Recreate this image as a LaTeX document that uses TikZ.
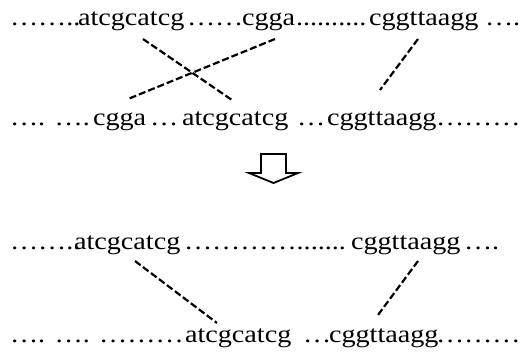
\documentclass[tikz,border=0pt]{standalone}
\usepackage{fontspec}
\usepackage{graphicx}
\setmainfont{Liberation Serif}
\usetikzlibrary{calc}
\newcommand{\stretchtxt}[1]{\scalebox{1.15}[1]{\fontsize{24.5pt}{30pt}\selectfont #1}}
\tikzset{
  seq/.style={anchor=base west, inner sep=0pt, outer sep=0pt},
  link/.style={draw=black, line width=2.2pt, dash pattern=on 7pt off 3pt},
  bigarrow/.style={draw=black, line width=1.8pt, fill=white, line join=miter}
}
\begin{document}
\begin{tikzpicture}[x=1pt,y=1pt]
\useasboundingbox (0,0) rectangle (522,-351);
% line 1
\node[seq] (d11) at (10,-25) {\stretchtxt{……..}};
\node[seq] (w11) at (78,-25) {\stretchtxt{atcgcatcg}};
\node[seq] (d12) at (187,-25) {\stretchtxt{……}};
\node[seq] (w12) at (242,-25) {\stretchtxt{cgga}};
\node[seq] (d13) at (296,-25) {\stretchtxt{..........}};
\node[seq] (w13) at (369,-25) {\stretchtxt{cggttaagg}};
\node[seq] (d14) at (485,-25) {\stretchtxt{….}};
% line 2
\node[seq] (d21) at (10,-125) {\stretchtxt{…. ….}};
\node[seq] (w21) at (93,-125) {\stretchtxt{cgga}};
\node[seq] (d22) at (150,-125) {\stretchtxt{…}};
\node[seq] (w22) at (182,-125) {\stretchtxt{atcgcatcg}};
\node[seq] (d23) at (297,-125) {\stretchtxt{…}};
\node[seq] (w23) at (327,-125) {\stretchtxt{cggttaagg}};
\node[seq] (d24) at (436,-125) {\stretchtxt{………}};
% line 3
\node[seq] (d31) at (10,-249) {\stretchtxt{……..}};
\node[seq] (w31) at (74,-249) {\stretchtxt{atcgcatcg}};
\node[seq] (d32) at (184,-249) {\stretchtxt{………….......}};
\node[seq] (w32) at (351,-249) {\stretchtxt{cggttaagg}};
\node[seq] (d33) at (464,-249) {\stretchtxt{….}};
% line 4
\node[seq] (d41) at (10,-342) {\stretchtxt{…. …. ………}};
\node[seq] (w41) at (185,-342) {\stretchtxt{atcgcatcg}};
\node[seq] (d42) at (303,-342) {\stretchtxt{…}};
\node[seq] (w42) at (329,-342) {\stretchtxt{cggttaagg}};
\node[seq] (d43) at (436,-342) {\stretchtxt{………}};
% connectors
\draw[link] ($(w11.base west)+(65,-14)$) -- ($(w22.base west)+(50,25)$);
\draw[link] ($(w12.base west)+(33,-14)$) -- ($(w21.base west)+(35,26)$);
\draw[link] ($(w13.base west)+(49,-14)$) -- ($(w23.base west)+(53,35)$);
\draw[link] ($(w31.base west)+(61,-12)$) -- ($(w41.base west)+(32,19)$);
\draw[link] ($(w32.base west)+(67,-12)$) -- ($(w42.base west)+(49,27)$);
% block arrow
\draw[bigarrow] (261,-154) -- (286,-154) -- (286,-173) -- (298,-173) -- (273.5,-183) -- (249,-173) -- (261,-173) -- cycle;
\end{tikzpicture}
\end{document}
